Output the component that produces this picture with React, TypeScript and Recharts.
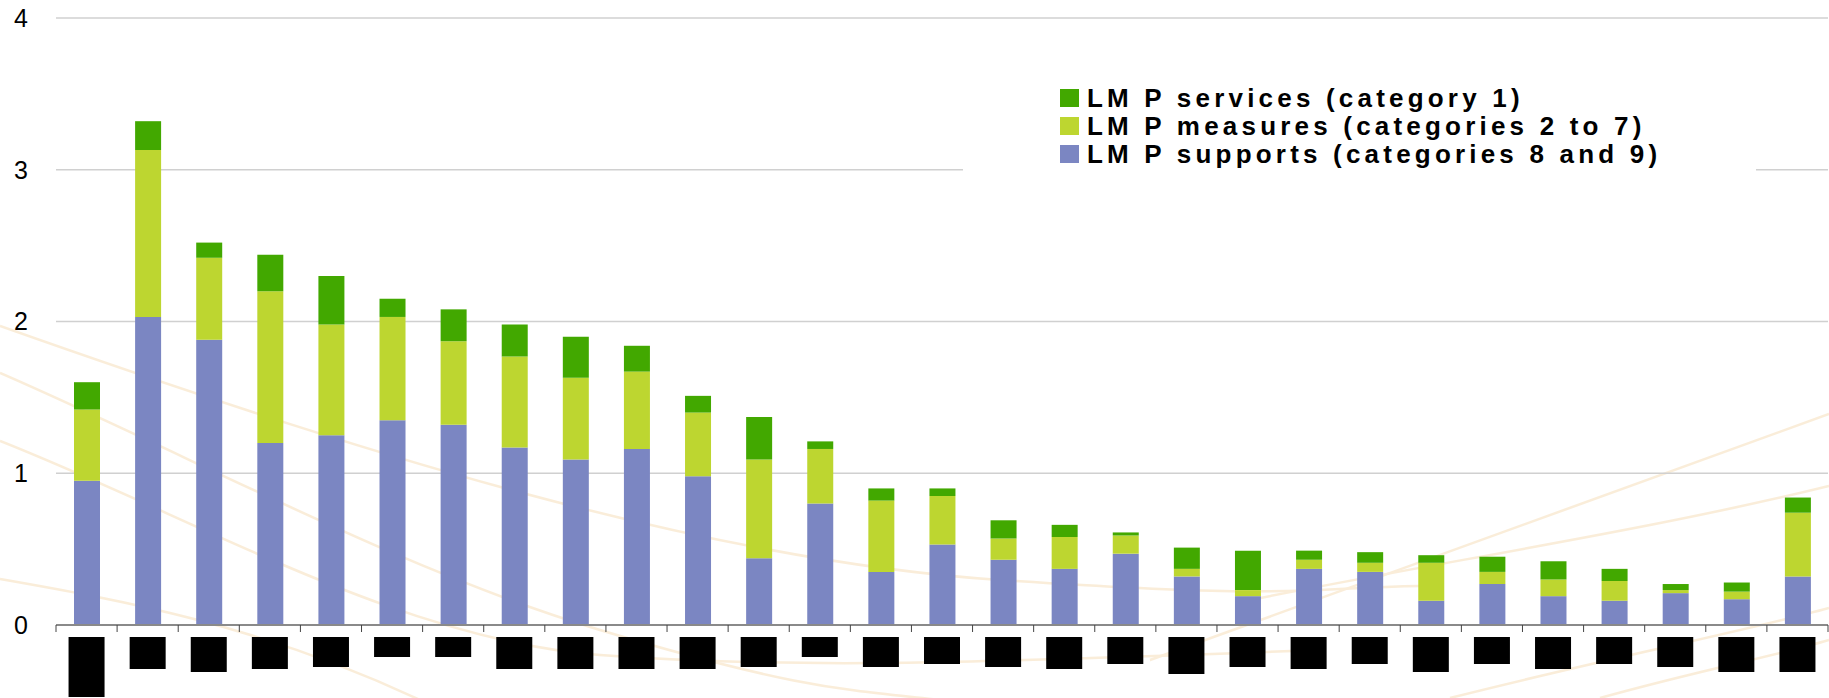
import React from 'react';
import { BarChart, Bar, XAxis, YAxis, CartesianGrid, Legend } from 'recharts';

// country labels are blacked out in the source, so only placeholders here
const categories = [
  'c01', 'c02', 'c03', 'c04', 'c05', 'c06', 'c07', 'c08', 'c09', 'c10',
  'c11', 'c12', 'c13', 'c14', 'c15', 'c16', 'c17', 'c18', 'c19', 'c20',
  'c21', 'c22', 'c23', 'c24', 'c25', 'c26', 'c27', 'c28', 'c29',
];

const supports = [
  0.95, 2.03, 1.88, 1.2, 1.25, 1.35, 1.32, 1.17, 1.09, 1.16,
  0.98, 0.44, 0.8, 0.35, 0.53, 0.43, 0.37, 0.47, 0.32, 0.19,
  0.37, 0.35, 0.16, 0.27, 0.19, 0.16, 0.21, 0.17, 0.32,
];

const measures = [
  0.47, 1.1, 0.54, 1.0, 0.73, 0.68, 0.55, 0.6, 0.54, 0.51,
  0.42, 0.65, 0.36, 0.47, 0.32, 0.14, 0.21, 0.12, 0.05, 0.04,
  0.06, 0.06, 0.25, 0.08, 0.11, 0.13, 0.02, 0.05, 0.42,
];

const services = [
  0.18, 0.19, 0.1, 0.24, 0.32, 0.12, 0.21, 0.21, 0.27, 0.17,
  0.11, 0.28, 0.05, 0.08, 0.05, 0.12, 0.08, 0.02, 0.14, 0.26,
  0.06, 0.07, 0.05, 0.1, 0.12, 0.08, 0.04, 0.06, 0.1,
];

const yTicks = [0, 1, 2, 3, 4];

// height of the black box that hides each label
const maskHeights = [
  60, 32, 35, 32, 30, 20, 20, 32, 32, 32, 32, 30, 20, 30,
  27, 30, 32, 27, 37, 30, 32, 27, 35, 27, 32, 27, 30, 35, 35,
];

const COLORS = {
  services: '#42a800',
  measures: '#bdd630',
  supports: '#7b86c2',
};

const legendItems = [
  { key: 'services', label: 'LM P services (category 1)', color: COLORS.services },
  { key: 'measures', label: 'LM P measures (categories 2 to 7)', color: COLORS.measures },
  { key: 'supports', label: 'LM P supports (categories 8 and 9)', color: COLORS.supports },
];

const FONT = '"Liberation Sans", Arial, sans-serif';

const data = categories.map((c, i) => ({
  name: c,
  supports: supports[i],
  measures: measures[i],
  services: services[i],
}));

const MaskedTick = (props: any) => {
  const { x, y, payload, index, width, visibleTicksCount } = props;
  const half = payload?.offset || width / visibleTicksCount / 2;
  const h = maskHeights[index] ?? 30;
  return (
    <g>
      <line x1={x - half} x2={x - half} y1={y} y2={y + 7} stroke="#444" strokeWidth={1} />
      {index === visibleTicksCount - 1 && (
        <line x1={x + half} x2={x + half} y1={y} y2={y + 7} stroke="#444" strokeWidth={1} />
      )}
      <rect x={x - 18} y={y + 12} width={36} height={h} fill="#000" />
    </g>
  );
};

const renderLegend = () => (
  <div
    style={{
      background: '#fff',
      width: 793,
      height: 110,
      boxSizing: 'border-box',
      paddingTop: 22,
      paddingLeft: 97,
      fontFamily: FONT,
      fontWeight: 'bold',
      fontSize: 26,
      letterSpacing: 4.2,
      color: '#000',
    }}
  >
    {legendItems.map((it) => (
      <div key={it.key} style={{ display: 'flex', alignItems: 'center', height: 28, whiteSpace: 'nowrap' }}>
        <span style={{ width: 19, height: 18, background: it.color, marginRight: 8, flexShrink: 0 }} />
        <span>{it.label}</span>
      </div>
    ))}
  </div>
);

// faint decorative swooshes from the slide background
const Background = () => (
  <svg width={1829} height={698} style={{ position: 'absolute', left: 0, top: 0 }}>
    <g fill="none" stroke="#f6dcb4" strokeWidth={2.5} opacity={0.5}>
      <path d="M0,326 C350,450 700,560 1000,580 S1300,588 1420,586" />
      <path d="M0,373 C200,460 400,570 600,630 S850,690 940,700" />
      <path d="M0,441 C200,520 400,640 600,655 S1000,662 1320,650" />
      <path d="M0,579 C120,600 260,625 420,700" />
      <path d="M1150,660 C1400,570 1650,480 1829,414" />
      <path d="M1250,600 C1450,560 1650,530 1829,486" />
      <path d="M1450,698 C1600,660 1750,630 1829,608" />
      <path d="M1600,698 C1700,670 1780,655 1829,640" />
    </g>
  </svg>
);

export default function App() {
  return (
    <div style={{ position: 'absolute', left: 0, top: 0, width: 1829, height: 698, background: '#fff' }}>
      <Background />
      <div style={{ position: 'absolute', left: 0, top: 0 }}>
        <BarChart
          width={1829}
          height={698}
          data={data}
          margin={{ top: 18, right: 1, bottom: 0, left: 0 }}
          barSize={26}
        >
          <CartesianGrid vertical={false} stroke="#d0d0d0" strokeWidth={1.5} />
          <XAxis
            dataKey="name"
            interval={0}
            height={73}
            axisLine={{ stroke: '#8a8a8a', strokeWidth: 2 }}
            tickLine={false}
            tickSize={0}
            tickMargin={0}
            tick={<MaskedTick />}
          />
          <YAxis
            domain={[0, 4]}
            ticks={yTicks}
            interval={0}
            width={56}
            axisLine={false}
            tickLine={false}
            tickSize={0}
            tickMargin={28}
            tick={{ fontSize: 25, fill: '#000', fontFamily: FONT }}
          />
          <Legend
            layout="vertical"
            align="center"
            verticalAlign="middle"
            content={renderLegend}
            wrapperStyle={{ left: 963, top: 62, width: 793, height: 110 }}
          />
          <Bar dataKey="supports" stackId="a" fill={COLORS.supports} isAnimationActive={false} />
          <Bar dataKey="measures" stackId="a" fill={COLORS.measures} isAnimationActive={false} />
          <Bar dataKey="services" stackId="a" fill={COLORS.services} isAnimationActive={false} />
        </BarChart>
      </div>
    </div>
  );
}
